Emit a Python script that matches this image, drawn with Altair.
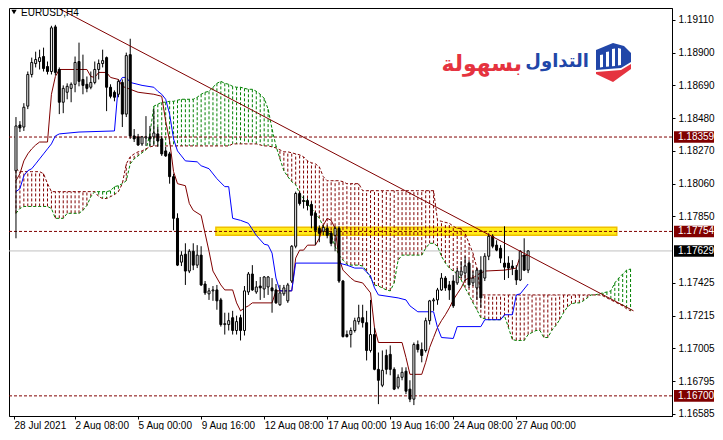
import altair as alt
import pandas as pd

# ---------------- data (EURUSD, H4) ----------------
opens = [
1.18143, 1.18436, 1.18423, 1.18557, 1.18760, 1.18830, 1.18843, 1.18875, 1.18811, 1.18779,
1.19065, 1.18792, 1.18582, 1.18646, 1.18671, 1.18697, 1.18843, 1.18728, 1.18697, 1.18678,
1.18709, 1.18792, 1.18830, 1.18868, 1.18678, 1.18646, 1.18633, 1.18709, 1.18506, 1.18887,
1.18366, 1.18360, 1.18315, 1.18353, 1.18360, 1.18360, 1.18379, 1.18347, 1.18270, 1.18251,
1.18105, 1.17838, 1.17557, 1.17608, 1.17500, 1.17627, 1.17538, 1.17602, 1.17417, 1.17354,
1.17373, 1.17379, 1.17315, 1.17157, 1.17157, 1.17201, 1.17119, 1.17201, 1.17119, 1.17366,
1.17481, 1.17366, 1.17404, 1.17385, 1.17398, 1.17392, 1.17379, 1.17284, 1.17354, 1.17309,
1.17436, 1.17659, 1.17997, 1.17952, 1.17952, 1.17927, 1.17870, 1.17774, 1.17755, 1.17774,
1.17742, 1.17729, 1.17774, 1.17436, 1.17093, 1.17093, 1.17119, 1.17176, 1.17201, 1.17169,
1.16991, 1.17093, 1.16870, 1.16768, 1.16959, 1.16966, 1.16870, 1.16756, 1.16819, 1.16858,
1.16743, 1.16679, 1.17029, 1.16997, 1.16991, 1.17182, 1.17309, 1.17315, 1.17379, 1.17455,
1.17411, 1.17436, 1.17424, 1.17474, 1.17487, 1.17551, 1.17424, 1.17392, 1.17506, 1.17455,
1.17595, 1.17723, 1.17666, 1.17646, 1.17551, 1.17551, 1.17532, 1.17506, 1.17443, 1.17602,
1.17506]
highs = [
1.18487, 1.18461, 1.18576, 1.18779, 1.18868, 1.18906, 1.18919, 1.18932, 1.18843, 1.19072,
1.19078, 1.18805, 1.18690, 1.18703, 1.18709, 1.18875, 1.18964, 1.18887, 1.18747, 1.18779,
1.18843, 1.18856, 1.18919, 1.18875, 1.18697, 1.18658, 1.18728, 1.18728, 1.18900, 1.18989,
1.18410, 1.18379, 1.18366, 1.18493, 1.18430, 1.18538, 1.18423, 1.18366, 1.18296, 1.18264,
1.18124, 1.17870, 1.17627, 1.17678, 1.17640, 1.17678, 1.17666, 1.17659, 1.17436, 1.17392,
1.17404, 1.17411, 1.17328, 1.17233, 1.17233, 1.17245, 1.17214, 1.17220, 1.17404, 1.17494,
1.17538, 1.17436, 1.17462, 1.17468, 1.17468, 1.17455, 1.17417, 1.17411, 1.17411, 1.17424,
1.17666, 1.18009, 1.18009, 1.17984, 1.17965, 1.17946, 1.17882, 1.17793, 1.17793, 1.17793,
1.17755, 1.17787, 1.17787, 1.17443, 1.17119, 1.17138, 1.17201, 1.17284, 1.17284, 1.17245,
1.17315, 1.17138, 1.16978, 1.16991, 1.16997, 1.17023, 1.16883, 1.16838, 1.16883, 1.16883,
1.16800, 1.17042, 1.17055, 1.17042, 1.17201, 1.17315, 1.17328, 1.17392, 1.17487, 1.17468,
1.17436, 1.17474, 1.17519, 1.17564, 1.17595, 1.17570, 1.17500, 1.17519, 1.17595, 1.17615,
1.17742, 1.17736, 1.17697, 1.17666, 1.17787, 1.17595, 1.17570, 1.17538, 1.17634, 1.17710,
1.17634]
lows = [
1.17710, 1.18391, 1.18398, 1.18538, 1.18741, 1.18805, 1.18792, 1.18779, 1.18760, 1.18760,
1.18754, 1.18506, 1.18512, 1.18601, 1.18582, 1.18646, 1.18684, 1.18633, 1.18646, 1.18665,
1.18697, 1.18728, 1.18805, 1.18525, 1.18607, 1.18588, 1.18614, 1.18423, 1.18487, 1.18347,
1.18327, 1.18302, 1.18302, 1.18302, 1.18302, 1.18302, 1.18296, 1.18238, 1.18232, 1.18060,
1.17761, 1.17532, 1.17532, 1.17411, 1.17487, 1.17506, 1.17519, 1.17404, 1.17347, 1.17315,
1.17309, 1.17252, 1.17144, 1.17093, 1.17119, 1.17093, 1.17093, 1.17055, 1.17087, 1.17347,
1.17373, 1.17354, 1.17315, 1.17328, 1.17347, 1.17233, 1.17290, 1.17277, 1.17341, 1.17296,
1.17424, 1.17646, 1.17920, 1.17901, 1.17889, 1.17774, 1.17666, 1.17685, 1.17729, 1.17710,
1.17659, 1.17627, 1.17424, 1.17074, 1.17074, 1.17010, 1.17106, 1.17157, 1.17138, 1.16927,
1.16978, 1.16864, 1.16647, 1.16756, 1.16838, 1.16832, 1.16737, 1.16743, 1.16800, 1.16711,
1.16660, 1.16641, 1.16978, 1.16915, 1.16978, 1.17157, 1.17245, 1.17284, 1.17373, 1.17373,
1.17315, 1.17264, 1.17411, 1.17455, 1.17436, 1.17392, 1.17404, 1.17315, 1.17264, 1.17436,
1.17570, 1.17646, 1.17627, 1.17551, 1.17443, 1.17455, 1.17474, 1.17411, 1.17436, 1.17500,
1.17487]
closes = [
1.18430, 1.18417, 1.18550, 1.18760, 1.18837, 1.18856, 1.18868, 1.18798, 1.18779, 1.19059,
1.18773, 1.18582, 1.18671, 1.18684, 1.18697, 1.18837, 1.18716, 1.18690, 1.18671, 1.18709,
1.18792, 1.18830, 1.18849, 1.18678, 1.18620, 1.18614, 1.18716, 1.18506, 1.18881, 1.18366,
1.18347, 1.18308, 1.18360, 1.18360, 1.18347, 1.18385, 1.18334, 1.18251, 1.18238, 1.18105,
1.17838, 1.17538, 1.17602, 1.17500, 1.17627, 1.17538, 1.17602, 1.17411, 1.17360, 1.17373,
1.17379, 1.17309, 1.17157, 1.17163, 1.17182, 1.17119, 1.17176, 1.17119, 1.17373, 1.17481,
1.17379, 1.17398, 1.17392, 1.17462, 1.17462, 1.17373, 1.17296, 1.17360, 1.17392, 1.17411,
1.17659, 1.17997, 1.17933, 1.17946, 1.17920, 1.17857, 1.17761, 1.17742, 1.17780, 1.17729,
1.17678, 1.17774, 1.17436, 1.17080, 1.17080, 1.17119, 1.17182, 1.17201, 1.17169, 1.16991,
1.17093, 1.16870, 1.16800, 1.16864, 1.16870, 1.16870, 1.16743, 1.16819, 1.16851, 1.16730,
1.16679, 1.17029, 1.16997, 1.16959, 1.17182, 1.17309, 1.17315, 1.17379, 1.17455, 1.17392,
1.17379, 1.17277, 1.17500, 1.17500, 1.17532, 1.17411, 1.17455, 1.17506, 1.17328, 1.17595,
1.17723, 1.17659, 1.17634, 1.17583, 1.17525, 1.17519, 1.17519, 1.17443, 1.17627, 1.17506,
1.17629]

tenkan_i = [0, 1, 2, 3, 4, 5, 6, 8, 9, 10, 11, 18, 19, 20, 21, 23, 24, 26, 27, 29, 31, 35, 37, 38, 39,
            40, 41, 43, 44, 45, 47, 48, 49, 50, 52, 53, 55, 56, 57, 58, 59, 60, 65, 66, 70, 71, 72, 73,
            74, 76, 77, 78, 79, 80, 81, 82, 83, 85, 86, 88, 89, 90, 91, 92, 98, 99, 100, 103, 104, 105,
            106, 107, 108, 109, 110, 111, 112, 113, 114, 115, 116, 117, 119, 124, 127, 128, 130]
tenkan_p = [1.18079, 1.18124, 1.18206, 1.18251, 1.18283, 1.18308, 1.18327, 1.18327, 1.18633, 1.18747,
            1.18792, 1.18792, 1.18747, 1.18741, 1.18773, 1.18773, 1.18741, 1.18728, 1.18684, 1.18665,
            1.18646, 1.18633, 1.18620, 1.18461, 1.18334, 1.18137, 1.18060, 1.18047, 1.17933, 1.17889,
            1.17857, 1.17742, 1.17627, 1.17500, 1.17411, 1.17379, 1.17379, 1.17296, 1.17245, 1.17264,
            1.17277, 1.17296, 1.17296, 1.17373, 1.17373, 1.17583, 1.17634, 1.17634, 1.17666, 1.17666,
            1.17710, 1.17793, 1.17838, 1.17825, 1.17774, 1.17583, 1.17506, 1.17455, 1.17436, 1.17424,
            1.17392, 1.17360, 1.17138, 1.17042, 1.17042, 1.16946, 1.16838, 1.16838, 1.16915, 1.17010,
            1.17074, 1.17138, 1.17182, 1.17220, 1.17264, 1.17315, 1.17354, 1.17392, 1.17443, 1.17455,
            1.17455, 1.17474, 1.17500, 1.17506, 1.17519, 1.17595, 1.17602]

kijun_i = [0, 1, 2, 3, 4, 5, 6, 7, 8, 9, 10, 11, 16, 25, 26, 27, 28, 29, 32, 35, 36, 37, 38, 39, 40,
           41, 42, 43, 46, 47, 49, 51, 53, 54, 55, 57, 59, 61, 63, 64, 65, 66, 67, 70, 71, 82, 84, 86,
           88, 90, 91, 92, 97, 99, 100, 102, 106, 107, 108, 111, 112, 118, 119, 123, 124, 126, 127, 128, 130]
kijun_p = [1.18009, 1.18028, 1.18111, 1.18143, 1.18156, 1.18187, 1.18219, 1.18251, 1.18283, 1.18315,
           1.18366, 1.18379, 1.18391, 1.18398, 1.18697, 1.18741, 1.18741, 1.18709, 1.18690, 1.18678,
           1.18652, 1.18633, 1.18601, 1.18506, 1.18347, 1.18270, 1.18238, 1.18206, 1.18200, 1.18175,
           1.18156, 1.18092, 1.18041, 1.18041, 1.17838, 1.17825, 1.17806, 1.17729, 1.17672, 1.17666,
           1.17615, 1.17455, 1.17373, 1.17373, 1.17551, 1.17551, 1.17538, 1.17519, 1.17519, 1.17468,
           1.17392, 1.17347, 1.17328, 1.17315, 1.17277, 1.17239, 1.17239, 1.17138, 1.17074, 1.17068,
           1.17144, 1.17144, 1.17188, 1.17188, 1.17220, 1.17220, 1.17347, 1.17354, 1.17417]

span_a = [
1.17870, 1.17901, 1.17914, 1.17914, 1.17914, 1.17914, 1.17914, 1.17914, 1.17914, 1.17901,
1.17838, 1.17838, 1.17838, 1.17870, 1.17870, 1.17870, 1.17870, 1.17889, 1.17920, 1.17977,
1.18009, 1.18009, 1.18009, 1.18009, 1.18015, 1.18041, 1.18047, 1.18060, 1.18079, 1.18187,
1.18219, 1.18238, 1.18258, 1.18277, 1.18379, 1.18557, 1.18569, 1.18582, 1.18582, 1.18588,
1.18588, 1.18595, 1.18601, 1.18601, 1.18601, 1.18601, 1.18614, 1.18633, 1.18646, 1.18652,
1.18678, 1.18703, 1.18716, 1.18703, 1.18697, 1.18684, 1.18678, 1.18678, 1.18671, 1.18665,
1.18665, 1.18652, 1.18633, 1.18607, 1.18538, 1.18410, 1.18302, 1.18219, 1.18143, 1.18105,
1.18073, 1.18054, 1.17997, 1.17965, 1.17933, 1.17901, 1.17870, 1.17838, 1.17787, 1.17755,
1.17729, 1.17659, 1.17602, 1.17570, 1.17544, 1.17538, 1.17538, 1.17538, 1.17532, 1.17500,
1.17455, 1.17411, 1.17404, 1.17392, 1.17379, 1.17373, 1.17424, 1.17570, 1.17602, 1.17602,
1.17602, 1.17602, 1.17602, 1.17602, 1.17646, 1.17678, 1.17678, 1.17659, 1.17595, 1.17551,
1.17519, 1.17500, 1.17481, 1.17443, 1.17392, 1.17347, 1.17296, 1.17252, 1.17201, 1.17195,
1.17188, 1.17188, 1.17188, 1.17188, 1.17214, 1.17138, 1.17061, 1.17055, 1.17055, 1.17055,
1.17093, 1.17106, 1.17119, 1.17119, 1.17074, 1.17074, 1.17119, 1.17150, 1.17188, 1.17233,
1.17271, 1.17290, 1.17296, 1.17296, 1.17309, 1.17328, 1.17347, 1.17347, 1.17354, 1.17360,
1.17366, 1.17373, 1.17424, 1.17455, 1.17481, 1.17506, 1.17513]
span_b = [
1.18156, 1.18137, 1.18137, 1.18137, 1.18137, 1.18137, 1.18137, 1.18124, 1.18060, 1.18009,
1.18009, 1.18009, 1.18009, 1.18009, 1.18009, 1.18009, 1.18009, 1.18009, 1.18009, 1.18009,
1.18009, 1.17977, 1.17965, 1.17965, 1.17977, 1.17990, 1.18009, 1.18060, 1.18187, 1.18232,
1.18251, 1.18264, 1.18270, 1.18283, 1.18296, 1.18302, 1.18302, 1.18302, 1.18302, 1.18302,
1.18302, 1.18302, 1.18302, 1.18302, 1.18302, 1.18302, 1.18302, 1.18302, 1.18302, 1.18302,
1.18302, 1.18302, 1.18302, 1.18302, 1.18302, 1.18315, 1.18315, 1.18315, 1.18315, 1.18315,
1.18315, 1.18315, 1.18308, 1.18302, 1.18302, 1.18296, 1.18289, 1.18277, 1.18264, 1.18264,
1.18258, 1.18251, 1.18245, 1.18232, 1.18206, 1.18194, 1.18187, 1.18168, 1.18105, 1.18079,
1.18079, 1.18079, 1.18079, 1.18073, 1.18060, 1.18060, 1.18060, 1.18060, 1.18015, 1.18015,
1.18015, 1.18015, 1.18015, 1.18015, 1.18015, 1.18015, 1.18015, 1.18015, 1.18015, 1.18015,
1.18015, 1.18015, 1.18015, 1.18015, 1.18015, 1.18015, 1.18015, 1.17825, 1.17819, 1.17812,
1.17806, 1.17787, 1.17774, 1.17774, 1.17742, 1.17678, 1.17615, 1.17519, 1.17347, 1.17347,
1.17347, 1.17347, 1.17347, 1.17347, 1.17347, 1.17347, 1.17347, 1.17347, 1.17347, 1.17347,
1.17347, 1.17347, 1.17347, 1.17347, 1.17347, 1.17347, 1.17347, 1.17347, 1.17347, 1.17347,
1.17347, 1.17347, 1.17347, 1.17347, 1.17347, 1.17347, 1.17347, 1.17347, 1.17347, 1.17341,
1.17328, 1.17315, 1.17303, 1.17290, 1.17277, 1.17258, 1.17245]

level_prices = [1.18359, 1.17754, 1.16700]
bid_price = [1.17629]
trend_i = [9, 156.75]
trend_p = [1.19208, 1.17245]
zone_i = [50.75, 152.5]
zone_p = [1.17780, 1.17729]

price_ticks = [1.19110, 1.18900, 1.18690, 1.18480, 1.18270, 1.18060, 1.17850,
               1.17425, 1.17215, 1.17005, 1.16795, 1.16585]
time_pos = [-0.5, 15, 31, 47, 63, 79, 95, 111, 127]
time_labels = ["28 Jul 2021", "2 Aug 08:00", "5 Aug 00:00", "9 Aug 16:00", "12 Aug 08:00",
               "17 Aug 00:00", "19 Aug 16:00", "24 Aug 08:00", "27 Aug 00:00"]
symbol_label = "EURUSD,H4"
logo_word_blue = "التداول"
logo_word_red = "بسهولة"

# ---------------- frames ----------------
cdf = pd.DataFrame({"i": list(range(len(opens))), "o": opens, "h": highs, "l": lows, "c": closes})
cloud = pd.DataFrame({"i": list(range(len(span_a))), "a": span_a, "b": span_b})
tdf = pd.DataFrame({"i": tenkan_i, "p": tenkan_p})
kdf = pd.DataFrame({"i": kijun_i, "p": kijun_p})
lev = pd.DataFrame({"p": level_prices})
bidf = pd.DataFrame({"p": bid_price})
trdf = pd.DataFrame({"i": trend_i, "p": trend_p})
zdf = pd.DataFrame({"i0": [zone_i[0]], "i1": [zone_i[1]], "p0": [zone_p[0]], "p1": [zone_p[1]]})
one = pd.DataFrame({"k": [0]})

FONT = "Liberation Sans"
MAROON = "#800000"
W, H = 663, 408

xs = alt.Scale(domain=[-0.5, 165.25], nice=False, zero=False)
ys = alt.Scale(domain=[1.16571, 1.19186], nice=False, zero=False)

label_expr = ("[" + ",".join("'" + t + "'" for t in time_labels) + "][indexof(["
              + ",".join(str(v) for v in time_pos) + "], datum.value)]")
xaxis = alt.Axis(values=time_pos, labelExpr=label_expr, title=None, grid=False, tickSize=3,
                 labelAlign="left", labelPadding=1, labelFont=FONT, labelFontSize=10,
                 labelColor="black", tickColor="black", domainColor="black",
                 labelFlush=False, labelOverlap=False, labelBound=False)
yaxis = alt.Axis(orient="right", values=price_ticks, format=".5f", title=None, grid=False,
                 tickSize=3, labelPadding=3, labelFont=FONT, labelFontSize=10,
                 labelColor="black", tickColor="black", domainColor="black",
                 labelFlush=False, labelOverlap=False, labelBound=False)


def X(f):
    return alt.X(f, type="quantitative", scale=xs, axis=xaxis)


def Y(f):
    return alt.Y(f, type="quantitative", scale=ys, axis=yaxis)


zone = alt.Chart(zdf).mark_rect(fill="#FFEC1A", stroke="#F0C000", strokeWidth=1.5).encode(
    x=X("i0"), x2="i1", y=Y("p0"), y2="p1")
bid_line = alt.Chart(bidf).mark_rule(color="#C0C0C0", strokeWidth=1).encode(y=Y("p"))
hatch = alt.Chart(cloud).mark_rule(strokeWidth=1, strokeDash=[3, 2]).encode(
    x=X("i"), y=Y("a"), y2="b",
    color=alt.condition("datum.a >= datum.b", alt.value("#008000"), alt.value(MAROON)))
line_a = alt.Chart(cloud).mark_line(color="#008000", strokeWidth=1, strokeDash=[3, 2]).encode(
    x=X("i"), y=Y("a"))
line_b = alt.Chart(cloud).mark_line(color=MAROON, strokeWidth=1, strokeDash=[3, 2]).encode(
    x=X("i"), y=Y("b"))
levels = alt.Chart(lev).mark_rule(color=MAROON, strokeWidth=1, strokeDash=[3, 2]).encode(y=Y("p"))
tenkan = alt.Chart(tdf).mark_line(color=MAROON, strokeWidth=1).encode(x=X("i"), y=Y("p"))
kijun = alt.Chart(kdf).mark_line(color="#0000FF", strokeWidth=1).encode(x=X("i"), y=Y("p"))
wicks = alt.Chart(cdf).mark_rule(color="black", strokeWidth=1).encode(x=X("i"), y=Y("l"), y2="h")
bodies = alt.Chart(cdf).mark_bar(size=2, stroke="black", strokeWidth=1).encode(
    x=X("i"), y=Y("o"), y2="c",
    fill=alt.condition("datum.c >= datum.o", alt.value("white"), alt.value("black")))
trend = alt.Chart(trdf).mark_line(color=MAROON, strokeWidth=1, clip=True).encode(x=X("i"), y=Y("p"))

box_lev = alt.Chart(lev).transform_calculate(top="datum.p + 0.00037", bot="datum.p - 0.00037").mark_rect(
    color=MAROON).encode(x=alt.value(W + 2), x2=alt.value(W + 42), y=Y("top"), y2="bot")
box_bid = alt.Chart(bidf).transform_calculate(top="datum.p + 0.00037", bot="datum.p - 0.00037").mark_rect(
    color="black").encode(x=alt.value(W + 2), x2=alt.value(W + 42), y=Y("top"), y2="bot")
txt_lev = alt.Chart(lev).mark_text(color="white", align="left", baseline="middle", font=FONT,
                                   fontSize=10).encode(x=alt.value(W + 6), y=Y("p"),
                                                       text=alt.Text("p:Q", format=".5f"))
txt_bid = alt.Chart(bidf).mark_text(color="white", align="left", baseline="middle", font=FONT,
                                    fontSize=10).encode(x=alt.value(W + 6), y=Y("p"),
                                                        text=alt.Text("p:Q", format=".5f"))

sym_tri = alt.Chart(one).mark_point(shape="triangle-down", filled=True, color="black", size=28,
                                    opacity=1).encode(x=alt.value(5), y=alt.value(4))
sym_txt = alt.Chart(one).mark_text(text=symbol_label, align="left", baseline="middle", font=FONT,
                                   fontSize=10, color="black").encode(x=alt.value(12), y=alt.value(5))

ar_blue = alt.Chart(one).mark_text(text=logo_word_blue, align="right", baseline="middle",
                                   font="DejaVu Sans", fontWeight="bold", fontSize=18,
                                   color="#2146A8").encode(x=alt.value(580), y=alt.value(54))
ar_red = alt.Chart(one).mark_text(text=logo_word_red, align="right", baseline="middle",
                                  font="DejaVu Sans", fontWeight="bold", fontSize=22,
                                  color="#E5333F").encode(x=alt.value(513), y=alt.value(56))

BLUE_PATH = "M -0.85 -0.6 L 0 -0.95 L 0.55 -0.8 L 0.9 -0.45 L 0.9 0 L 0.4 0.3 L -0.85 0.4 Z"
RED_PATH = "M -0.85 0.5 L 0.4 0.4 L 0.9 0.1 L 0.9 0.35 L 0 1 L -0.85 0.6 Z"
BARS_PATH = ("M -0.65 -0.35 L -0.5 -0.38 L -0.5 0.25 L -0.65 0.27 Z "
             "M -0.35 -0.5 L -0.2 -0.53 L -0.2 0.23 L -0.35 0.24 Z "
             "M -0.05 -0.65 L 0.1 -0.68 L 0.1 0.2 L -0.05 0.21 Z "
             "M 0.25 -0.7 L 0.4 -0.66 L 0.4 0.15 L 0.25 0.18 Z")
icon_blue = alt.Chart(one).mark_point(shape=BLUE_PATH, filled=True, color="#2146A8", size=1600,
                                      opacity=1).encode(x=alt.value(604), y=alt.value(54))
icon_red = alt.Chart(one).mark_point(shape=RED_PATH, filled=True, color="#E5333F", size=1600,
                                     opacity=1).encode(x=alt.value(604), y=alt.value(54))
icon_bars = alt.Chart(one).mark_point(shape=BARS_PATH, filled=True, color="white", size=1600,
                                      opacity=1).encode(x=alt.value(604), y=alt.value(54))

chart = alt.layer(
    zone, bid_line, hatch, line_a, line_b, levels, tenkan, kijun, wicks, bodies, trend,
    box_lev, box_bid, txt_lev, txt_bid, sym_tri, sym_txt, ar_blue, ar_red,
    icon_blue, icon_red, icon_bars
).properties(
    width=W, height=H,
    padding={"left": 0, "top": 0, "right": 0, "bottom": 0},
    background="white",
).configure_view(stroke="black", strokeWidth=1)

chart.save("out.html", embed_options={"renderer": "svg", "actions": False})
